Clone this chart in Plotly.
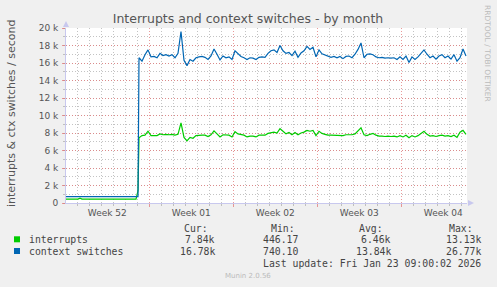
import numpy as np
import plotly.graph_objects as go

# ---------------- data (values in thousands per second) ----------------
# x positions are days from the left edge of the graph
pre_days = [0.0, 1.0, 1.167, 1.333, 5.833, 6.0]
pre_ctx = [0.74, 0.74, 0.74, 0.74, 0.74, 0.74]
pre_int = [0.446, 0.446, 0.56, 0.446, 0.45, 1.4]

main_start_day = 6.083
main_step_day = 0.25

ctx_switches = [
    16.6, 16.2, 16.95, 17.5, 16.7, 16.75, 16.6, 17.1, 16.85, 16.95,
    16.8, 16.95, 16.6, 17.1, 19.6, 16.3, 15.7, 16.4, 16.2, 16.6,
    16.7, 16.75, 16.65, 16.4, 16.8, 17.6, 17.0, 16.35, 16.8, 16.6,
    16.7, 16.4, 17.4, 17.1, 16.75, 16.6, 16.4, 16.6, 16.55, 16.4,
    16.65, 16.7, 16.65, 17.1, 17.4, 17.5, 17.2, 18.0, 17.4, 17.1,
    17.2, 16.85, 17.35, 16.65, 17.15, 17.4, 17.9, 17.55, 17.8, 16.7,
    17.5, 17.05, 16.9, 16.75, 16.65, 16.75, 16.6, 16.75, 16.5, 16.75,
    16.8, 16.6, 17.0, 17.55, 18.3, 16.6, 17.0, 17.05, 16.95, 16.7,
    16.6, 16.65, 16.55, 16.6, 16.55, 16.6, 16.4, 16.7, 16.4, 16.8,
    16.05, 16.7, 16.4, 16.7, 17.15, 17.5, 17.0, 16.6, 16.8, 16.45,
    16.8, 16.95, 16.6, 16.8, 16.45, 16.95, 16.2, 16.6, 17.6, 16.8,
]
interrupts = [
    7.45, 7.7, 7.75, 8.2, 7.7, 7.7, 7.7, 7.9, 7.8, 7.85,
    7.8, 7.85, 7.75, 7.85, 9.15, 7.5, 7.1, 7.5, 7.4, 7.7,
    7.75, 7.75, 7.75, 7.6, 7.8, 8.25, 7.9, 7.55, 7.8, 7.75,
    7.75, 7.55, 8.15, 7.9, 7.8, 7.75, 7.55, 7.65, 7.65, 7.55,
    7.75, 7.75, 7.75, 7.95, 8.05, 8.1, 8.0, 8.5, 8.2, 7.9,
    8.05, 7.8, 8.05, 7.8, 8.0, 8.1, 8.3, 8.2, 8.3, 7.7,
    8.2, 7.95, 7.85, 7.75, 7.75, 7.75, 7.7, 7.75, 7.7, 7.8,
    7.8, 7.8, 7.9, 8.2, 8.6, 7.8, 7.7, 7.85, 7.95, 7.75,
    7.65, 7.65, 7.6, 7.65, 7.6, 7.65, 7.55, 7.7, 7.55, 7.75,
    7.45, 7.7, 7.55, 7.7, 8.0, 8.2, 7.85, 7.65, 7.7, 7.6,
    7.7, 7.75, 7.65, 7.7, 7.6, 7.75, 7.5, 8.1, 8.3, 7.85,
]

week_labels = ["Week 52", "Week 01", "Week 02", "Week 03", "Week 04"]
week_label_days = [3.44, 10.44, 17.44, 24.44, 31.44]
y_tick_vals = [0, 2, 4, 6, 8, 10, 12, 14, 16, 18, 20]
y_tick_text = ["0", "2 k", "4 k", "6 k", "8 k", "10 k", "12 k", "14 k", "16 k", "18 k", "20 k"]

series_names = ["interrupts", "context switches"]
series_colors = ["#00CC00", "#0066B3"]
stat_headers = ["Cur:", "Min:", "Avg:", "Max:"]
stats = [
    ["7.84k", "446.17", "6.46k", "13.13k"],
    ["16.78k", "740.10", "13.84k", "26.77k"],
]
last_update = "Last update: Fri Jan 23 09:00:02 2026"

# ---------------- figure ----------------
W, H = 497, 287
L, R, T, B = 66, 30, 28, 84
PW, PH = W - L - R, H - T - B
X_MAX = PW / 12.0


def px(xp):
    return (xp - L) / PW


def py(yp):
    return (H - B - yp) / PH


main_days = main_start_day + main_step_day * np.arange(len(ctx_switches))
days = list(pre_days) + list(main_days)
int_all = pre_int + interrupts
ctx_all = pre_ctx + ctx_switches

fig = go.Figure()
fig.add_trace(go.Scatter(x=days, y=int_all, mode="lines",
                         line=dict(color=series_colors[0], width=1.2),
                         showlegend=False, hoverinfo="skip"))
fig.add_trace(go.Scatter(x=days, y=ctx_all, mode="lines",
                         line=dict(color=series_colors[1], width=1.2),
                         showlegend=False, hoverinfo="skip"))
# invisible trace to carry the label axis
fig.add_trace(go.Scatter(x=[None], y=[None], xaxis="x2", showlegend=False,
                         hoverinfo="skip"))

axis_col = "#c8c8ee"
major_grid = "rgba(225,120,120,0.75)"
minor_grid = "rgba(170,170,170,0.7)"
tick_font = dict(family="DejaVu Sans", size=9, color="#555555")

fig.update_layout(
    width=W, height=H,
    margin=dict(l=L, r=R, t=T, b=B),
    paper_bgcolor="#F0F0F0",
    plot_bgcolor="#FFFFFF",
    title=dict(text="Interrupts and context switches - by month",
               x=248 / W, xanchor="center", y=1 - 19 / H, yanchor="middle",
               font=dict(family="DejaVu Sans", size=12.5, color="#555555")),
    xaxis=dict(range=[0, X_MAX], showticklabels=False,
               tick0=6.94, dtick=7, showgrid=True, gridcolor=major_grid,
               griddash="1px,2px", gridwidth=1,
               ticks="outside", ticklen=3, tickcolor=major_grid,
               minor=dict(tick0=6.94, dtick=1, showgrid=True,
                          gridcolor=minor_grid, griddash="1px,2px",
                          ticks="outside", ticklen=2, tickcolor=minor_grid),
               showline=True, linecolor=axis_col, linewidth=1,
               zeroline=False, fixedrange=True),
    xaxis2=dict(range=[0, X_MAX], overlaying="x", side="bottom",
                tickvals=week_label_days, ticktext=week_labels,
                showgrid=False, showline=False, zeroline=False,
                ticks="", tickfont=tick_font, ticklabelstandoff=3),
    yaxis=dict(range=[0, 20], tickvals=y_tick_vals, ticktext=y_tick_text,
               showgrid=True, gridcolor=major_grid, griddash="1px,2px",
               ticks="outside", ticklen=3, tickcolor=major_grid,
               minor=dict(dtick=1, showgrid=True, gridcolor=minor_grid,
                          griddash="1px,2px", ticks="outside", ticklen=2,
                          tickcolor=minor_grid),
               showline=True, linecolor=axis_col, linewidth=1,
               zeroline=False, tickfont=tick_font, ticklabelstandoff=2),
)

ann = []
# y-axis title
ann.append(dict(text="interrupts &amp; ctx switches / second", x=px(11), y=py(114),
                xref="paper", yref="paper", showarrow=False, textangle=-90,
                xanchor="center", yanchor="middle",
                font=dict(family="DejaVu Sans", size=11, color="#555555")))
# vertical credit
ann.append(dict(text="RRDTOOL / TOBI OETIKER", x=px(488), y=py(53),
                xref="paper", yref="paper", showarrow=False, textangle=90,
                xanchor="center", yanchor="middle",
                font=dict(family="DejaVu Sans", size=7.5, color="#BBBBBB")))

mono = dict(family="DejaVu Sans Mono", size=9.8, color="#444444")
header_left = [181.7, 269, 357, 447]
value_right = [216.7, 300, 393.3, 483.3]
for h, xl in zip(stat_headers, header_left):
    ann.append(dict(text=h, x=px(xl), y=py(228.3), xref="paper", yref="paper",
                    showarrow=False, xanchor="left", yanchor="middle", font=mono))
row_y = [239.3, 251]
shapes = []
for i, name in enumerate(series_names):
    ann.append(dict(text=name, x=px(26.7), y=py(row_y[i]), xref="paper", yref="paper",
                    showarrow=False, xanchor="left", yanchor="middle", font=mono))
    for v, xr in zip(stats[i], value_right):
        ann.append(dict(text=v, x=px(xr), y=py(row_y[i]), xref="paper", yref="paper",
                        showarrow=False, xanchor="right", yanchor="middle", font=mono))
    shapes.append(dict(type="rect", xref="paper", yref="paper",
                       x0=px(14), x1=px(20), y0=py(row_y[i] + 3), y1=py(row_y[i] - 3),
                       fillcolor=series_colors[i], line=dict(width=0)))
ann.append(dict(text=last_update, x=px(483), y=py(263.3), xref="paper", yref="paper",
                showarrow=False, xanchor="right", yanchor="middle", font=mono))
ann.append(dict(text="Munin 2.0.56", x=px(248), y=py(276), xref="paper", yref="paper",
                showarrow=False, xanchor="center", yanchor="middle",
                font=dict(family="DejaVu Sans", size=7, color="#BBBBBB")))

# axis arrows
shapes.append(dict(type="path", xref="paper", yref="paper",
                   path=f"M {px(63)} {py(27)} L {px(69)} {py(27)} L {px(66)} {py(21)} Z",
                   fillcolor=axis_col, line=dict(width=0)))
shapes.append(dict(type="path", xref="paper", yref="paper",
                   path=f"M {px(468)} {py(200)} L {px(468)} {py(206)} L {px(474)} {py(203)} Z",
                   fillcolor=axis_col, line=dict(width=0)))

fig.update_layout(annotations=ann, shapes=shapes)
fig.write_html("out.html")
